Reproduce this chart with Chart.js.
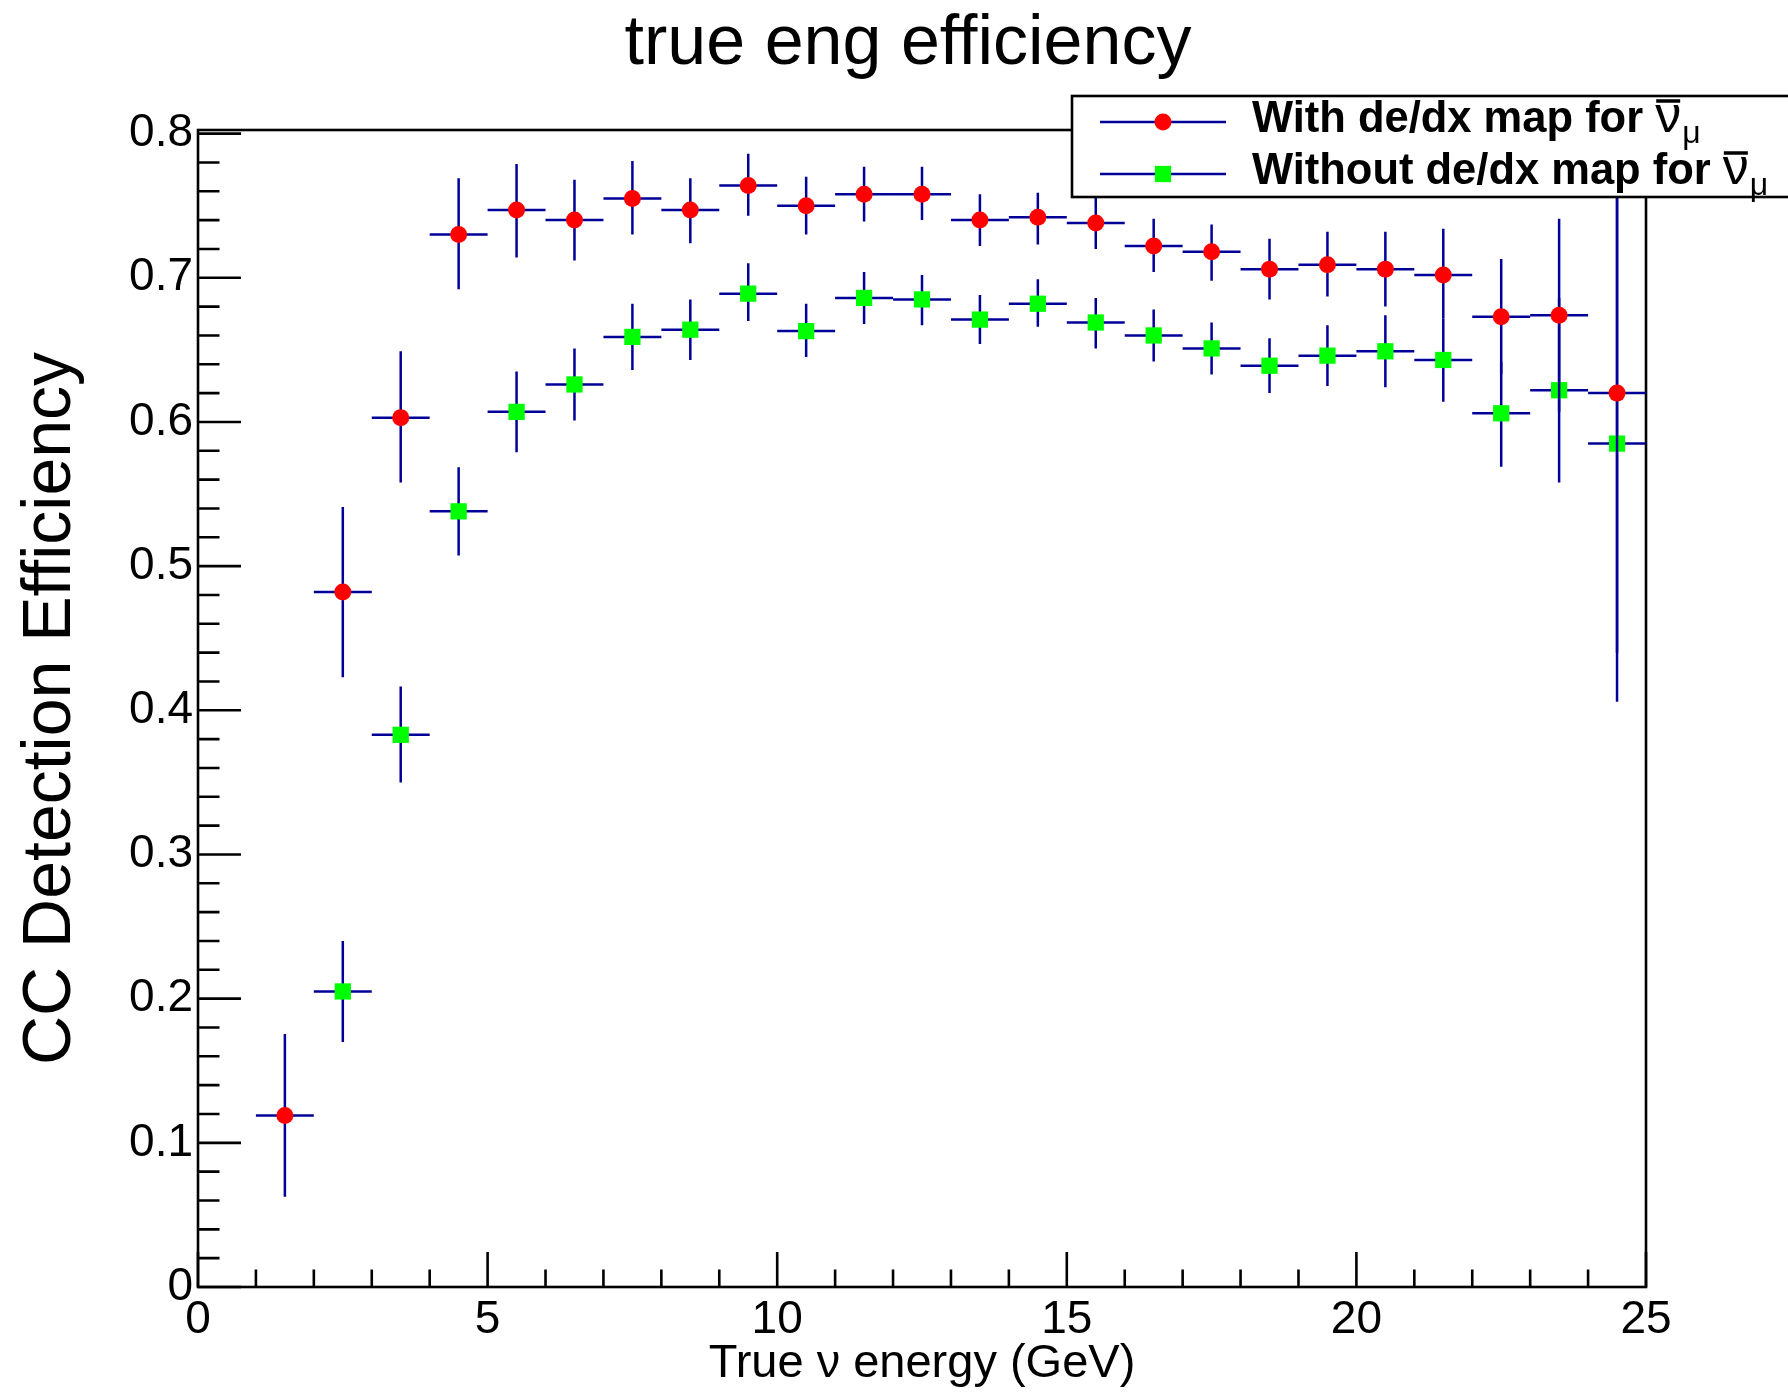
<!DOCTYPE html>
<html>
<head>
<meta charset="utf-8">
<script src="https://cdn.jsdelivr.net/npm/chart.js@4.4.1/dist/chart.umd.min.js"></script>
<style>
html,body{margin:0;padding:0;background:#ffffff;}
#wrap{width:1788px;height:1392px;}
</style>
</head>
<body>
<div id="wrap"><canvas id="c" width="1788" height="1392"></canvas></div>
<script>
// ---------------- data ----------------
const chartTitle = 'true eng efficiency';
const xAxisTitle = 'True \u03bd energy (GeV)';
const yAxisTitle = 'CC Detection Efficiency';
const legendLabels = ['With de/dx map for ', 'Without de/dx map for '];

const energyWith = [1.5, 2.5, 3.5, 4.5, 5.5, 6.5, 7.5, 8.5, 9.5, 10.5, 11.5, 12.5,
                    13.5, 14.5, 15.5, 16.5, 17.5, 18.5, 19.5, 20.5, 21.5, 22.5, 23.5, 24.5];
const effWith   = [0.119, 0.482, 0.603, 0.730, 0.747, 0.740, 0.755, 0.747, 0.764, 0.750, 0.758, 0.758,
                   0.740, 0.742, 0.738, 0.722, 0.718, 0.706, 0.709, 0.706, 0.702, 0.673, 0.674, 0.620];
const effWithHi = [0.1755, 0.541, 0.649, 0.769, 0.779, 0.768, 0.781, 0.769, 0.786, 0.770, 0.777, 0.777,
                   0.758, 0.759, 0.758, 0.741, 0.737, 0.727, 0.732, 0.732, 0.734, 0.713, 0.741, 0.800];
const effWithLo = [0.0626, 0.423, 0.558, 0.692, 0.714, 0.712, 0.730, 0.724, 0.743, 0.730, 0.739, 0.740,
                   0.722, 0.723, 0.720, 0.704, 0.698, 0.685, 0.687, 0.680, 0.672, 0.633, 0.607, 0.440];

const energyWithout = [2.5, 3.5, 4.5, 5.5, 6.5, 7.5, 8.5, 9.5, 10.5, 11.5, 12.5,
                       13.5, 14.5, 15.5, 16.5, 17.5, 18.5, 19.5, 20.5, 21.5, 22.5, 23.5, 24.5];
const effWithout   = [0.205, 0.383, 0.538, 0.607, 0.626, 0.659, 0.664, 0.689, 0.663, 0.686, 0.685,
                      0.671, 0.682, 0.669, 0.660, 0.651, 0.639, 0.646, 0.649, 0.643, 0.606, 0.622, 0.585];
const effWithoutHi = [0.240, 0.4165, 0.5685, 0.635, 0.651, 0.682, 0.685, 0.710, 0.682, 0.704, 0.702,
                      0.688, 0.699, 0.686, 0.678, 0.669, 0.658, 0.667, 0.674, 0.672, 0.642, 0.686, 0.764];
const effWithoutLo = [0.170, 0.350, 0.5074, 0.579, 0.601, 0.636, 0.643, 0.670, 0.645, 0.668, 0.667,
                      0.654, 0.666, 0.651, 0.642, 0.633, 0.620, 0.625, 0.624, 0.614, 0.569, 0.558, 0.406];

const binHalfWidth = 0.5;
const xTickValues = [0, 5, 10, 15, 20, 25];
const yTickValues = [0, 0.1, 0.2, 0.3, 0.4, 0.5, 0.6, 0.7, 0.8];
const xTickLabels = ['0', '5', '10', '15', '20', '25'];
const yTickLabels = ['0', '0.1', '0.2', '0.3', '0.4', '0.5', '0.6', '0.7', '0.8'];
const minorDivisions = 5;

// ---------------- styling ----------------
const FONT = '"Liberation Sans", Arial, Helvetica, sans-serif';
Chart.defaults.font.family = FONT;
Chart.defaults.color = '#000000';
const ERR_COLOR = '#000099';

// error bars, drawn right before each dataset's markers
const errorBars = {
  id: 'errorBars',
  beforeDatasetDraw(chart, args) {
    const ds = chart.data.datasets[args.index];
    const xs = chart.scales.x, ys = chart.scales.y, ctx = chart.ctx, a = chart.chartArea;
    ctx.save();
    ctx.beginPath();
    ctx.rect(a.left, a.top, a.right - a.left, a.bottom - a.top);
    ctx.clip();
    ctx.strokeStyle = ds.errColor;
    ctx.lineWidth = 2.5;
    ds.data.forEach((p, i) => {
      const px = xs.getPixelForValue(p.x);
      const py = ys.getPixelForValue(p.y);
      const x0 = xs.getPixelForValue(p.x - ds.xErr);
      const x1 = xs.getPixelForValue(p.x + ds.xErr);
      const yh = ys.getPixelForValue(ds.errHi[i]);
      const yl = ys.getPixelForValue(ds.errLo[i]);
      ctx.beginPath();
      ctx.moveTo(x0, py); ctx.lineTo(x1, py);
      ctx.moveTo(px, yh); ctx.lineTo(px, yl);
      ctx.stroke();
    });
    ctx.restore();
  }
};

// ROOT-like frame with inward ticks
const frameTicks = {
  id: 'frameTicks',
  beforeDatasetsDraw(chart) {
    const ctx = chart.ctx, a = chart.chartArea, xs = chart.scales.x, ys = chart.scales.y;
    ctx.save();
    ctx.strokeStyle = '#000';
    ctx.lineWidth = 2.6;
    ctx.strokeRect(a.left, a.top, a.right - a.left, a.bottom - a.top);
    const xMajorLen = 35, xMinorLen = 17.5, yMajorLen = 43, yMinorLen = 21.5;
    ctx.beginPath();
    for (let i = 0; i < yTickValues.length; i++) {
      const v = yTickValues[i];
      const py = ys.getPixelForValue(v);
      ctx.moveTo(a.left, py); ctx.lineTo(a.left + yMajorLen, py);
      if (i < yTickValues.length - 1) {
        const step = (yTickValues[i + 1] - v) / minorDivisions;
        for (let j = 1; j < minorDivisions; j++) {
          const pm = ys.getPixelForValue(v + j * step);
          ctx.moveTo(a.left, pm); ctx.lineTo(a.left + yMinorLen, pm);
        }
      }
    }
    for (let i = 0; i < xTickValues.length; i++) {
      const v = xTickValues[i];
      const px = xs.getPixelForValue(v);
      ctx.moveTo(px, a.bottom); ctx.lineTo(px, a.bottom - xMajorLen);
      if (i < xTickValues.length - 1) {
        const step = (xTickValues[i + 1] - v) / minorDivisions;
        for (let j = 1; j < minorDivisions; j++) {
          const pm = xs.getPixelForValue(v + j * step);
          ctx.moveTo(pm, a.bottom); ctx.lineTo(pm, a.bottom - xMinorLen);
        }
      }
    }
    ctx.stroke();
    ctx.restore();
  }
};

// title + ROOT-style legend box
const titleLegend = {
  id: 'titleLegend',
  afterDraw(chart) {
    const ctx = chart.ctx;
    ctx.save();
    ctx.fillStyle = '#000';
    ctx.font = '70px ' + FONT;
    ctx.textAlign = 'center';
    ctx.textBaseline = 'alphabetic';
    ctx.fillText(chartTitle, 908, 64);

    // legend box
    const bx = 1072, by = 96, bw = 740, bh = 101;
    ctx.fillStyle = '#fff';
    ctx.fillRect(bx, by, bw, bh);
    ctx.strokeStyle = '#000';
    ctx.lineWidth = 2.6;
    ctx.strokeRect(bx, by, bw, bh);
    const rows = [122, 174];
    chart.data.datasets.forEach((ds, i) => {
      const y = rows[i];
      ctx.strokeStyle = ds.errColor;
      ctx.lineWidth = 2.5;
      ctx.beginPath(); ctx.moveTo(1100, y); ctx.lineTo(1226, y); ctx.stroke();
      ctx.fillStyle = ds.backgroundColor;
      Chart.helpers.drawPoint(ctx, {pointStyle: ds.pointStyle, radius: ds.pointRadius, rotation: 0, borderWidth: 0}, 1163, y);
      ctx.fillStyle = '#000';
      ctx.textAlign = 'left';
      ctx.textBaseline = 'alphabetic';
      ctx.font = 'bold 43.5px ' + FONT;
      const base = y + 10;
      ctx.fillText(ds.label, 1252, base);
      const tx = 1252 + ctx.measureText(ds.label).width;
      ctx.font = '52px ' + FONT;
      ctx.fillText('\u03bd', tx, base);
      const nw = ctx.measureText('\u03bd').width;
      ctx.lineWidth = 3.5;
      ctx.strokeStyle = '#000';
      ctx.beginPath(); ctx.moveTo(tx + 1, base - 31); ctx.lineTo(tx + nw - 1, base - 31); ctx.stroke();
      ctx.font = '32px ' + FONT;
      ctx.fillText('\u03bc', tx + nw + 1, base + 11);
    });
    ctx.restore();
  }
};

const toPts = (xs, ys) => xs.map((x, i) => ({x: x, y: ys[i]}));

new Chart(document.getElementById('c').getContext('2d'), {
  type: 'scatter',
  data: {
    datasets: [
      {
        label: legendLabels[0],
        data: toPts(energyWith, effWith),
        errHi: effWithHi, errLo: effWithLo, xErr: binHalfWidth, errColor: ERR_COLOR,
        pointStyle: 'circle', pointRadius: 8.5, pointHoverRadius: 8.5,
        backgroundColor: '#ff0000', borderColor: '#ff0000', pointBorderWidth: 0, showLine: false
      },
      {
        label: legendLabels[1],
        data: toPts(energyWithout, effWithout),
        errHi: effWithoutHi, errLo: effWithoutLo, xErr: binHalfWidth, errColor: ERR_COLOR,
        pointStyle: 'rect', pointRadius: 11.5, pointHoverRadius: 11.5,
        backgroundColor: '#00ff00', borderColor: '#00ff00', pointBorderWidth: 0, showLine: false
      }
    ]
  },
  options: {
    responsive: false,
    animation: false,
    devicePixelRatio: 1,
    events: [],
    layout: {padding: {left: 0, right: 142, top: 130, bottom: 0}},
    plugins: {legend: {display: false}, tooltip: {enabled: false}, title: {display: false}},
    scales: {
      x: {
        type: 'linear', min: 0, max: 25,
        afterBuildTicks: s => { s.ticks = xTickValues.map(v => ({value: v})); },
        afterFit: s => { s.height = 105; },
        grid: {display: false}, border: {display: false},
        ticks: {
          font: {size: 46}, color: '#000', padding: -2, autoSkip: false, maxRotation: 0,
          callback: (v) => xTickLabels[xTickValues.indexOf(v)]
        },
        title: {display: true, text: xAxisTitle, color: '#000', font: {size: 47}, padding: {top: 0, bottom: 0}}
      },
      y: {
        type: 'linear', min: 0, max: 0.8025,
        afterBuildTicks: s => { s.ticks = yTickValues.map(v => ({value: v})); },
        afterFit: s => { s.width = 198; },
        grid: {display: false}, border: {display: false},
        ticks: {
          font: {size: 46}, color: '#000', padding: -3, autoSkip: false,
          callback: (v) => yTickLabels[yTickValues.indexOf(v)]
        },
        title: {display: true, text: yAxisTitle, color: '#000', font: {size: 68}, padding: {top: 10, bottom: 0}}
      }
    }
  },
  plugins: [errorBars, frameTicks, titleLegend]
});
</script>
</body>
</html>
